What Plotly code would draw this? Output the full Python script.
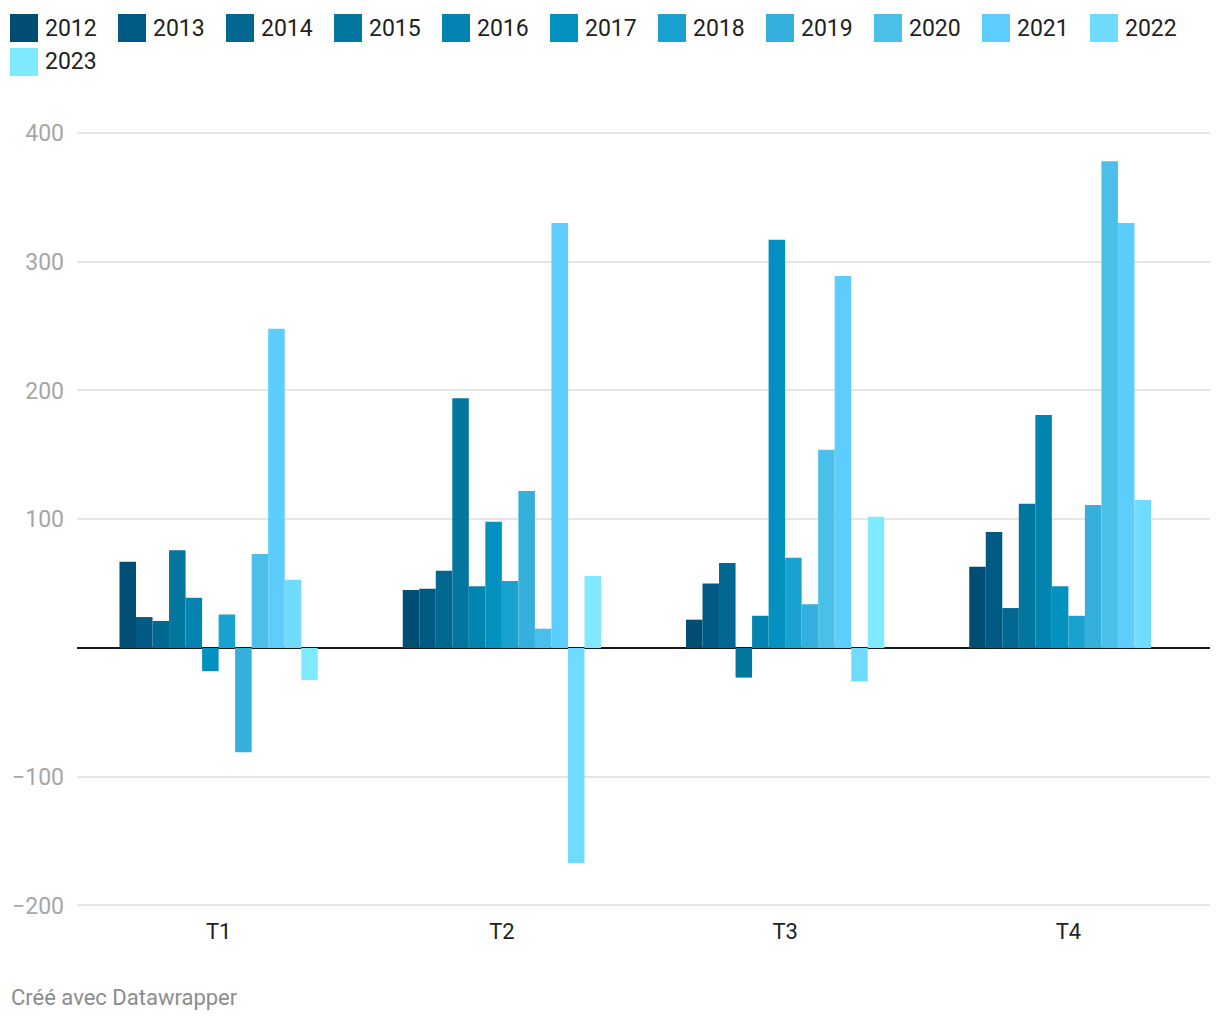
import plotly.graph_objects as go

quarters = ["T1", "T2", "T3", "T4"]
years = ["2012", "2013", "2014", "2015", "2016", "2017", "2018", "2019", "2020", "2021", "2022", "2023"]

# values per year, in order T1..T4
v2012 = [67, 45, 22, 63]
v2013 = [24, 46, 50, 90]
v2014 = [21, 60, 66, 31]
v2015 = [76, 194, -23, 112]
v2016 = [39, 48, 25, 181]
v2017 = [-18, 98, 317, 48]
v2018 = [26, 52, 70, 25]
v2019 = [-81, 122, 34, 111]
v2020 = [73, 15, 154, 378]
v2021 = [248, 330, 289, 330]
v2022 = [53, -167, -26, 115]
v2023 = [-25, 56, 102, None]

series = [v2012, v2013, v2014, v2015, v2016, v2017, v2018, v2019, v2020, v2021, v2022, v2023]
colors = ["#014d74", "#015a84", "#016891", "#0376a0", "#0384b0", "#0392bf",
          "#19a2d0", "#35b0dc", "#4abfea", "#5ccdfc", "#6fdcff", "#7feaff"]

y_ticks = [-200, -100, 100, 200, 300, 400]
y_tick_text = ["\u2212200", "\u2212100", "100", "200", "300", "400"]

# page has 8px body margin; figure sized to fit inside the window
OFF = 8
W, H = 1204, 1004
L, R, T, B = 69, 2, 92, 102
PW = W - L - R
PH = H - T - B

fig = go.Figure()
for yr, vals, c in zip(years, series, colors):
    fig.add_trace(go.Bar(x=quarters, y=vals, name=yr, marker=dict(color=c, line=dict(width=0)),
                         showlegend=False))

def px2x(p):
    return (p - OFF - L) / PW

def px2y(p):
    return (H - B - (p - OFF)) / PH

# manual legend (page-pixel positions)
shapes = []
annotations = []
for i, (yr, c) in enumerate(zip(years, colors)):
    if i < 11:
        x0 = 10 + 108 * i
        row_top = 14
    else:
        x0 = 10
        row_top = 48
    shapes.append(dict(type="rect", xref="paper", yref="paper",
                       x0=px2x(x0), x1=px2x(x0 + 28), y0=px2y(row_top + 28), y1=px2y(row_top),
                       fillcolor=c, line=dict(width=0)))
    annotations.append(dict(text=yr, xref="paper", yref="paper", x=px2x(x0 + 33), y=px2y(row_top + 14),
                            xanchor="left", yanchor="middle", showarrow=False,
                            font=dict(family="Roboto", size=23, color="#222")))

annotations.append(dict(text="Créé avec Datawrapper", xref="paper", yref="paper",
                        x=px2x(9), y=px2y(997), xanchor="left", yanchor="middle", showarrow=False,
                        font=dict(family="Roboto", size=22, color="#8c8c8c")))

fig.update_layout(
    width=W, height=H,
    margin=dict(l=L, r=R, t=T, b=B, pad=0),
    paper_bgcolor="white", plot_bgcolor="white",
    barmode="group", bargap=0.3, bargroupgap=0,
    font=dict(family="Roboto", color="#222"),
    shapes=shapes, annotations=annotations,
    showlegend=False,
    xaxis=dict(range=[-0.5, 3.5], showgrid=False, zeroline=False, showline=False, ticks="",
               tickfont=dict(size=22, color="#222"), ticklabelstandoff=6),
    yaxis=dict(range=[-203.5, 425.6], tickvals=y_ticks, ticktext=y_tick_text,
               showgrid=True, gridcolor="#e5e5e5", gridwidth=1.5,
               zeroline=True, zerolinecolor="#1a1a1a", zerolinewidth=2,
               showline=False, ticks="", tickfont=dict(size=23, color="#a6a6a6"),
               ticklabelstandoff=12),
)

fig.write_html("out.html")
